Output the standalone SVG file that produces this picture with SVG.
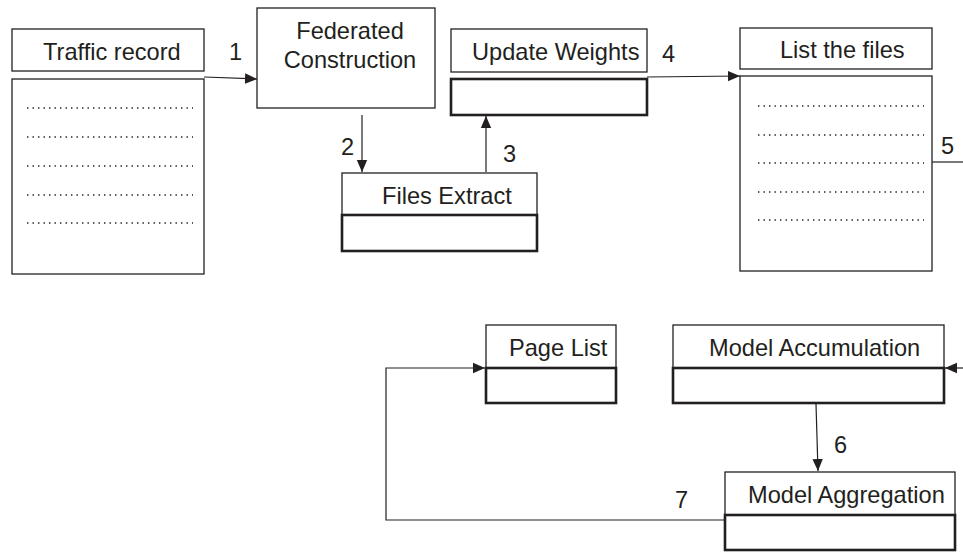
<svg xmlns="http://www.w3.org/2000/svg" width="963" height="552" viewBox="0 0 963 552">
  <style>
    text { font-family: "Liberation Sans", Arial, sans-serif; font-size: 23.6px; fill: #231f20; }
    .box { fill: #fff; stroke: #231f20; stroke-width: 1.3; }
    .thick { fill: #fff; stroke: #231f20; stroke-width: 2.6; }
    .dots { stroke: #231f20; stroke-width: 1.4; stroke-dasharray: 1.4 4.1; fill: none; }
    .wire { stroke: #231f20; stroke-width: 1.2; fill: none; }
  </style>
  <defs>
    <marker id="arrow" markerUnits="userSpaceOnUse" markerWidth="13" markerHeight="12" refX="12" refY="6" orient="auto">
      <path d="M0,0.8 L12,6 L0,11.2 z" fill="#231f20"/>
    </marker>
  </defs>
  <rect width="963" height="552" fill="#fff"/>

  <!-- connectors -->
  <g id="connectors">
    <line class="wire" x1="204" y1="77" x2="257" y2="79" marker-end="url(#arrow)"/>
    <line class="wire" x1="362" y1="115" x2="362" y2="172" marker-end="url(#arrow)"/>
    <line class="wire" x1="486" y1="172" x2="486" y2="116" marker-end="url(#arrow)"/>
    <line class="wire" x1="647" y1="77" x2="740" y2="76" marker-end="url(#arrow)"/>
    <line class="wire" x1="932" y1="162" x2="963" y2="162"/>
    <line class="wire" x1="963" y1="368" x2="945" y2="368" marker-end="url(#arrow)"/>
    <line class="wire" x1="816" y1="404" x2="818" y2="471" marker-end="url(#arrow)"/>
    <polyline class="wire" points="725,520 386,520 386,368 485,368" marker-end="url(#arrow)"/>
    <text x="229" y="60">1</text>
    <text x="341" y="155">2</text>
    <text x="503" y="162">3</text>
    <text x="662" y="62">4</text>
    <text x="941" y="154">5</text>
    <text x="834" y="453">6</text>
    <text x="675" y="508">7</text>
  </g>

  <!-- Traffic record -->
  <g id="traffic-record">
    <rect class="box" x="12" y="29" width="192" height="42"/>
    <rect class="box" x="12" y="79" width="192" height="195"/>
    <text x="43" y="60">Traffic record</text>
    <path class="dots" d="M27,108 H193 M27,137 H193 M27,166 H193 M27,195 H193 M27,223 H193"/>
  </g>

  <!-- Federated Construction -->
  <g id="federated-construction">
    <rect class="box" x="257" y="8" width="178" height="100"/>
    <text x="350" y="39" text-anchor="middle">Federated</text>
    <text x="350" y="68" text-anchor="middle">Construction</text>
  </g>

  <!-- Files Extract -->
  <g id="files-extract">
    <rect class="box" x="342" y="173" width="195" height="42"/>
    <rect class="thick" x="342" y="215" width="195" height="36"/>
    <text x="382" y="204">Files Extract</text>
  </g>

  <!-- Update Weights -->
  <g id="update-weights">
    <rect class="box" x="451" y="29" width="196" height="43"/>
    <rect class="thick" x="451" y="79" width="196" height="36"/>
    <text x="472" y="60">Update Weights</text>
  </g>

  <!-- List the files -->
  <g id="list-the-files">
    <rect class="box" x="740" y="28" width="192" height="41"/>
    <rect class="box" x="740" y="76" width="192" height="195"/>
    <text x="780" y="58">List the files</text>
    <path class="dots" d="M758,106 H924 M758,135 H924 M758,163 H924 M758,192 H924 M758,220 H924"/>
  </g>

  <!-- Page List -->
  <g id="page-list">
    <rect class="box" x="486" y="325" width="130" height="43"/>
    <rect class="thick" x="486" y="368" width="130" height="35"/>
    <text x="509" y="356">Page List</text>
  </g>

  <!-- Model Accumulation -->
  <g id="model-accumulation">
    <rect class="box" x="673" y="325" width="271" height="43"/>
    <rect class="thick" x="673" y="368" width="271" height="35"/>
    <text x="709" y="356">Model Accumulation</text>
  </g>

  <!-- Model Aggregation -->
  <g id="model-aggregation">
    <rect class="box" x="725" y="472" width="230" height="43"/>
    <rect class="thick" x="725" y="515" width="230" height="35"/>
    <text x="748" y="503">Model Aggregation</text>
  </g>
</svg>
